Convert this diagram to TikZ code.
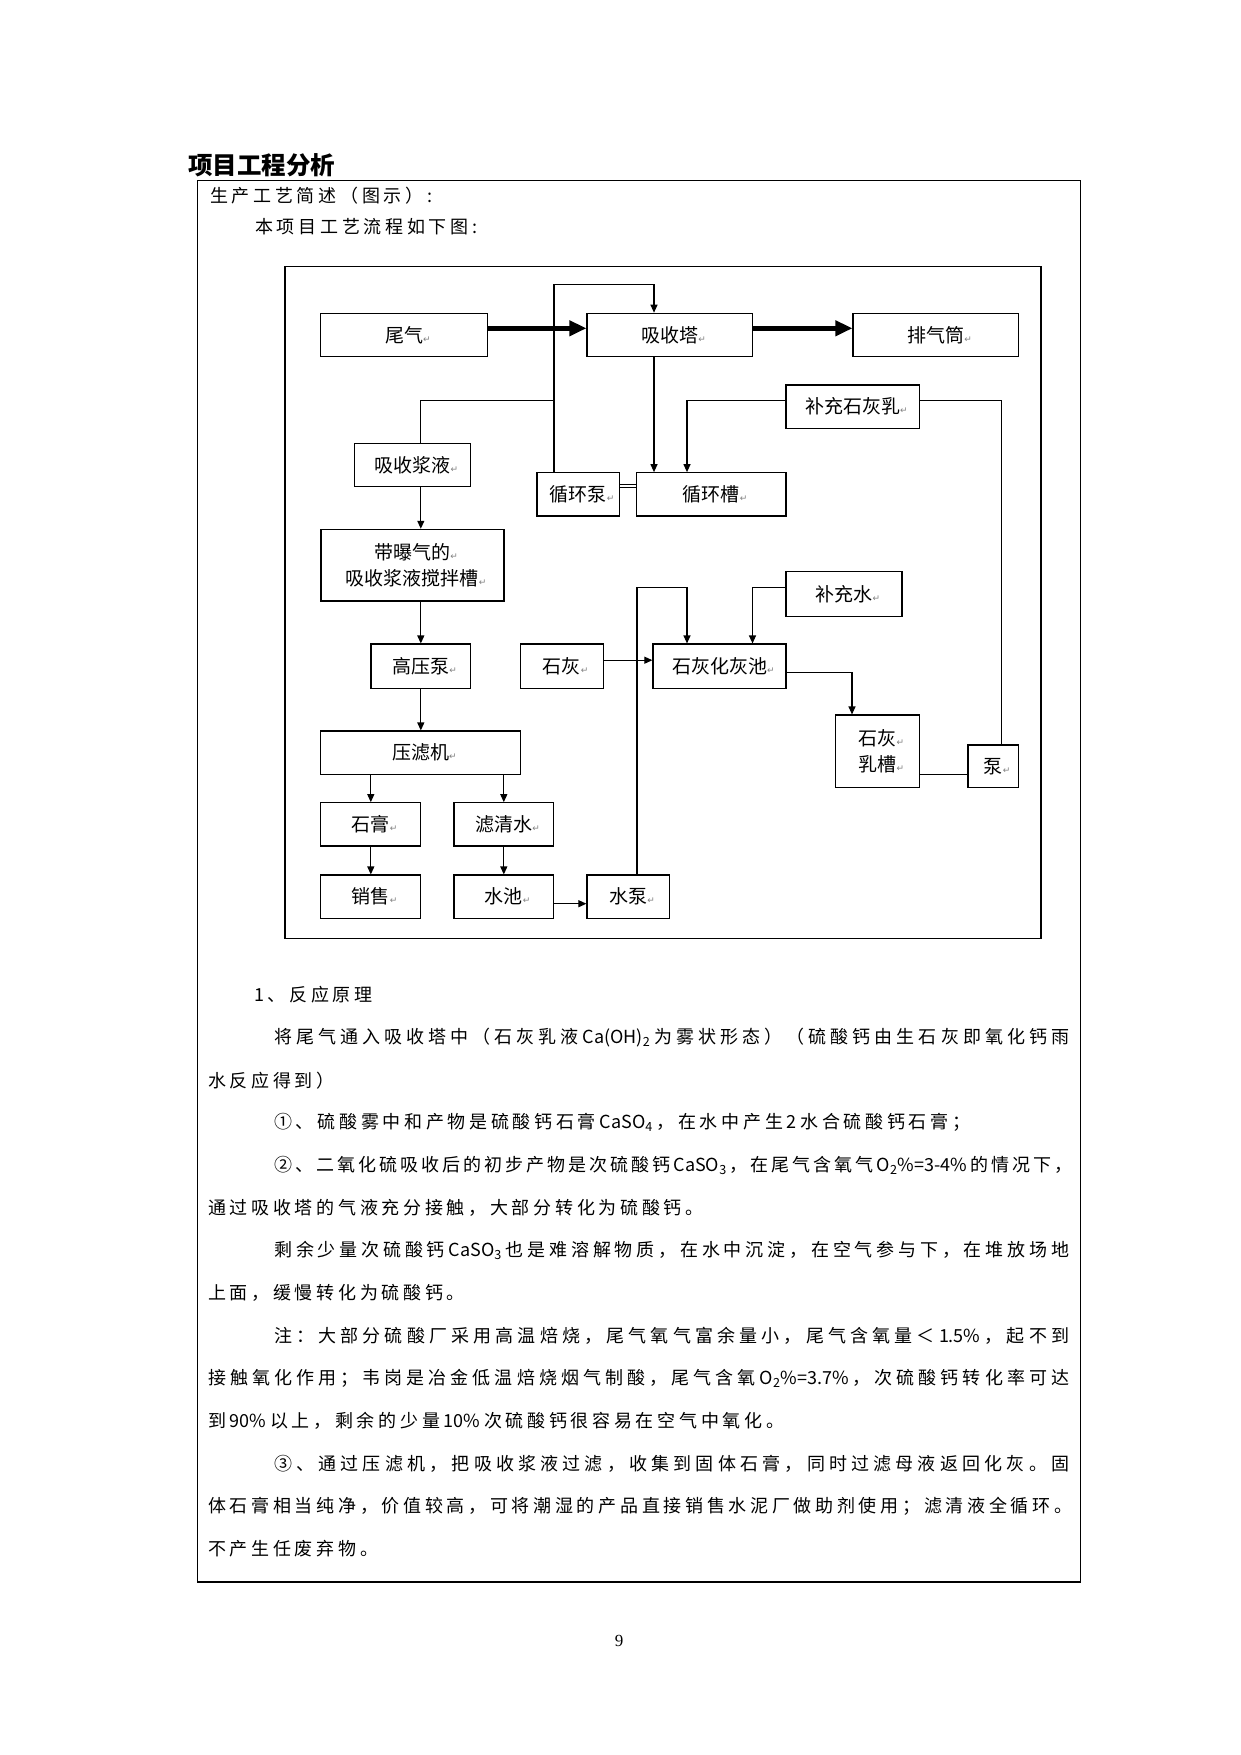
\documentclass[tikz,border=0pt]{standalone}
\usepackage{fontspec}
\newfontfamily\cjk{Noto Sans CJK SC}
\newfontfamily\retfont{DejaVu Sans}
\newfontfamily\numfont{Liberation Serif}
\usetikzlibrary{arrows.meta}
\newcommand\retmark{\rlap{\textcolor{gray}{\retfont\fontsize{9}{9}\selectfont ↵}}}
\makeatletter
\newcommand\spreadcjk[1]{\@tfor\cjk@item:=#1\do{\cjk@item\hskip 3.7pt plus 4pt minus 2pt\relax}\unskip}
\makeatother
\newcommand\bodytext{\cjk\fontsize{18}{20}\selectfont}
\newcommand\fillto[2]{\hbox to #1{\spreadcjk{#2}}}
\tikzset{
	pbox/.style={draw,line width=1.2pt,inner sep=0pt,align=center,font=\cjk\fontsize{19}{26.5}\selectfont},
	flow/.style={line width=1.1pt,-{Triangle[length=8pt,width=7pt]}},
	link/.style={line width=1.1pt},
	gas/.style={line width=5pt,-{Triangle[length=17pt,width=15pt]}},
	txt/.style={anchor=west,inner sep=0pt,font=\bodytext},
}
\begin{document}
\begin{tikzpicture}[x=1pt,y=-1pt]
	\useasboundingbox (0,0) rectangle (1241,1755);
	\node[anchor=west,inner sep=0pt,font=\cjk\bfseries\fontsize{24.5}{24.5}\selectfont] (title) at (188,165) {项目工程分析};
	\draw[line width=1.3pt] (197.5,180.7) rectangle (1080.5,1582);
	\node[txt] (intro) at (210,196) {\spreadcjk{生产工艺简述（图示）:}};
	\node[txt] (lead) at (255,227) {\spreadcjk{本项目工艺流程如下图:}};
	\draw[line width=1.3pt] (285,266.7) rectangle (1041,938.3);
	\node[pbox,minimum width=166.7pt,minimum height=43.4pt] (wq) at (404.2,335) {尾气\retmark};
	\node[pbox,minimum width=165.6pt,minimum height=43.4pt] (xst) at (669.8,335) {吸收塔\retmark};
	\node[pbox,minimum width=165.8pt,minimum height=43.4pt] (pqt) at (935.9,335) {排气筒\retmark};
	\node[pbox,minimum width=133.3pt,minimum height=43.3pt] (bchr) at (852.7,406.7) {补充石灰乳\retmark};
	\node[pbox,minimum width=116pt,minimum height=43.4pt] (xsjy) at (412.6,465) {吸收浆液\retmark};
	\node[pbox,minimum width=82.8pt,minimum height=43.3pt] (xhb) at (578.4,494.4) {循环泵\retmark};
	\node[pbox,minimum width=149.3pt,minimum height=43.3pt] (xhc) at (711.4,494.4) {循环槽\retmark};
	\node[pbox,minimum width=183pt,minimum height=71.7pt] (jbc) at (412.4,565.2) {带曝气的\retmark\\吸收浆液搅拌槽\retmark};
	\node[pbox,minimum width=116pt,minimum height=45pt] (bcs) at (844,594.2) {补充水\retmark};
	\node[pbox,minimum width=99.5pt,minimum height=44.3pt] (gyb) at (420.8,666.2) {高压泵\retmark};
	\node[pbox,minimum width=83pt,minimum height=44.3pt] (sh) at (561.9,666.2) {石灰\retmark};
	\node[pbox,minimum width=133pt,minimum height=44.3pt] (hhc) at (719.5,666.2) {石灰化灰池\retmark};
	\node[pbox,minimum width=199.5pt,minimum height=43.3pt] (ylj) at (420.6,752.7) {压滤机\retmark};
	\node[pbox,minimum width=83.6pt,minimum height=72.7pt] (shrc) at (877.5,751.4) {石灰\retmark\\乳槽\retmark};
	\node[pbox,minimum width=50.8pt,minimum height=42.7pt] (beng) at (993.4,766.4) {泵\retmark};
	\node[pbox,minimum width=100pt,minimum height=43.3pt] (sg) at (370.8,824.4) {石膏\retmark};
	\node[pbox,minimum width=99.6pt,minimum height=43.3pt] (lqs) at (503.8,824.4) {滤清水\retmark};
	\node[pbox,minimum width=100pt,minimum height=43.3pt] (xs) at (370.8,896.7) {销售\retmark};
	\node[pbox,minimum width=99.6pt,minimum height=43.3pt] (sc) at (503.8,896.7) {水池\retmark};
	\node[pbox,minimum width=82.6pt,minimum height=43.3pt] (sb) at (628.3,896.7) {水泵\retmark};
	\coordinate (top) at (554,284.3);
	\coordinate (fork) at (554,400.7);
	\coordinate (mix) at (637,587.3);
	\draw[gas] ([yshift=6.7pt]wq.east) -- ([yshift=6.7pt]xst.west);
	\draw[gas] ([yshift=6.7pt]xst.east) -- ([yshift=6.7pt]pqt.west);
	\draw[flow] (top |- xhb.north) -- (top) -| ([xshift=-15.8pt]xst.north);
	\draw[link] (fork) -| (xsjy.north -| gyb);
	\draw[flow] ([xshift=-15.8pt]xst.south) -- ([xshift=-15.8pt]xst.south |- xhc.north);
	\draw[flow] ([yshift=6pt]bchr.west) -| ([xshift=-24.4pt]xhc.north);
	\draw[link] ([yshift=6pt]bchr.east) -| ([xshift=8pt]beng.north);
	\draw[link,double,double distance=1.5pt,line width=0.8pt] ([yshift=8.4pt]xhb.east) -- ([yshift=8.4pt]xhb.east -| xhc.west);
	\draw[flow] (xsjy.south -| gyb) -- (jbc.north -| gyb);
	\draw[flow] (jbc.south -| gyb) -- (gyb.north);
	\draw[flow] (gyb.south) -- (ylj.north -| gyb);
	\draw[flow] (ylj.south -| sg) -- (sg.north);
	\draw[flow] (ylj.south -| lqs) -- (lqs.north);
	\draw[flow] (sg.south) -- (xs.north);
	\draw[flow] (lqs.south) -- (sc.north);
	\draw[flow] ([yshift=-7pt]sc.east) -- ([yshift=-7pt]sc.east -| sb.west);
	\draw[flow] (mix |- sb.north) -- (mix) -| ([xshift=-32.5pt]hhc.north);
	\draw[flow] ([yshift=7pt]bcs.west) -| ([xshift=33pt]hhc.north);
	\draw[flow] ([yshift=6pt]sh.east) -- ([yshift=6pt]sh.east -| hhc.west);
	\draw[flow] ([yshift=-6.7pt]hhc.east) -| ([xshift=-25.5pt]shrc.north);
	\draw[link] ([yshift=-23pt]shrc.east) -- ([yshift=-23pt]shrc.east -| beng.west);
	\node[txt] (p1) at (254,995) {\spreadcjk{1、反应原理}};
	\node[txt] (p2) at (274,1037.6) {\fillto{795pt}{将尾气通入吸收塔中（石灰乳液{Ca(OH)\textsubscript{2}}为雾状形态）（硫酸钙由生石灰即氧化钙雨}};
	\node[txt] (p3) at (208,1080.2) {\spreadcjk{水反应得到）}};
	\node[txt] (p4) at (274,1122.8) {\spreadcjk{①、硫酸雾中和产物是硫酸钙石膏{CaSO\textsubscript{4}}，在水中产生2水合硫酸钙石膏；}};
	\node[txt] (p5) at (274,1165.4) {\fillto{798pt}{②、二氧化硫吸收后的初步产物是次硫酸钙{CaSO\textsubscript{3}}，在尾气含氧气{O\textsubscript{2}\%=3-4\%}的情况下，}};
	\node[txt] (p6) at (208,1208) {\spreadcjk{通过吸收塔的气液充分接触，大部分转化为硫酸钙。}};
	\node[txt] (p7) at (274,1250.6) {\fillto{795pt}{剩余少量次硫酸钙{CaSO\textsubscript{3}}也是难溶解物质，在水中沉淀，在空气参与下，在堆放场地}};
	\node[txt] (p8) at (208,1293.2) {\spreadcjk{上面，缓慢转化为硫酸钙。}};
	\node[txt] (p9) at (274,1335.8) {\fillto{795pt}{注：大部分硫酸厂采用高温焙烧，尾气氧气富余量小，尾气含氧量＜{1.5\%}，起不到}};
	\node[txt] (p10) at (208,1378.4) {\fillto{861pt}{接触氧化作用；韦岗是冶金低温焙烧烟气制酸，尾气含氧{O\textsubscript{2}\%=3.7\%}，次硫酸钙转化率可达}};
	\node[txt] (p11) at (208,1421) {\spreadcjk{到{90\%}以上，剩余的少量{10\%}次硫酸钙很容易在空气中氧化。}};
	\node[txt] (p12) at (274,1463.6) {\fillto{795pt}{③、通过压滤机，把吸收浆液过滤，收集到固体石膏，同时过滤母液返回化灰。固}};
	\node[txt] (p13) at (208,1506.2) {\fillto{864pt}{体石膏相当纯净，价值较高，可将潮湿的产品直接销售水泥厂做助剂使用；滤清液全循环。}};
	\node[txt] (p14) at (208,1548.8) {\spreadcjk{不产生任废弃物。}};
	\node[font=\numfont\fontsize{17}{17}\selectfont] (pageno) at (619,1641) {9};
\end{tikzpicture}
\end{document}
